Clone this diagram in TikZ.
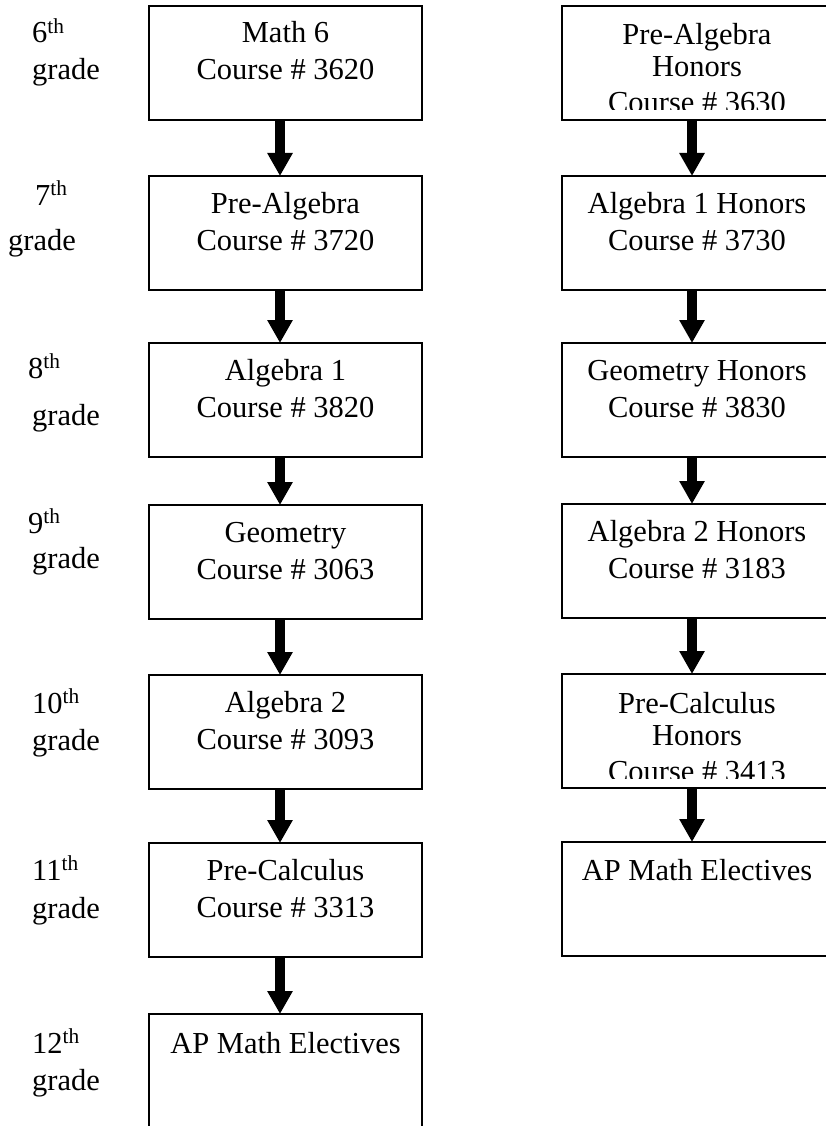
\documentclass[tikz,border=0pt]{standalone}
\usepackage{fontspec}
\setmainfont{Liberation Serif}
\usetikzlibrary{arrows.meta}
\tikzset{
  box/.style={draw, line width=1.6pt, rectangle, minimum width=273pt, minimum height=114pt, anchor=north west, inner sep=0pt, outer sep=0pt},
  txt/.style={anchor=base, inner sep=0pt, font=\fontsize{30.5}{36}\selectfont},
  grd/.style={anchor=base west, inner sep=0pt, font=\fontsize{30.5}{36}\selectfont},
  flow/.style={line width=10pt, line cap=butt, -{Triangle[width=24pt,length=23pt]}}
}
\begin{document}
\begin{tikzpicture}[x=1pt,y=-1pt]
\path[use as bounding box] (0,0) rectangle (826,1126);
\clip (0,0) rectangle (826,1126);
% grade labels
\node[grd] (g6a) at (32,43) {6\textsuperscript{th}};
\node[grd] (g6b) at (32,80) {grade};
\node[grd] (g7a) at (35,205) {7\textsuperscript{th}};
\node[grd] (g7b) at (8,250) {grade};
\node[grd] (g8a) at (28,378) {8\textsuperscript{th}};
\node[grd] (g8b) at (32,425) {grade};
\node[grd] (g9a) at (28,533) {9\textsuperscript{th}};
\node[grd] (g9b) at (32,568) {grade};
\node[grd] (g10a) at (32,713) {10\textsuperscript{th}};
\node[grd] (g10b) at (32,750) {grade};
\node[grd] (g11a) at (32,880) {11\textsuperscript{th}};
\node[grd] (g11b) at (32,918) {grade};
\node[grd] (g12a) at (32,1053) {12\textsuperscript{th}};
\node[grd] (g12b) at (32,1090) {grade};
% left column boxes
\node[box] (L1) at (149,6) {};
\node[box] (L2) at (149,176) {};
\node[box] (L3) at (149,343) {};
\node[box] (L4) at (149,505) {};
\node[box] (L5) at (149,675) {};
\node[box] (L6) at (149,843) {};
\node[box, minimum height=140pt] (L7) at (149,1014) {};
% right column boxes
\node[box] (R1) at (562,6) {};
\node[box] (R2) at (562,176) {};
\node[box] (R3) at (562,343) {};
\node[box] (R4) at (562,504) {};
\node[box] (R5) at (562,674) {};
\node[box] (R6) at (562,842) {};
% left texts
\node[txt] (L1a) at ([yshift=-37pt]L1.north) {Math 6};
\node[txt] (L1b) at ([yshift=-74pt]L1.north) {Course \# 3620};
\node[txt] (L2a) at ([yshift=-37pt]L2.north) {Pre-Algebra};
\node[txt] (L2b) at ([yshift=-74pt]L2.north) {Course \# 3720};
\node[txt] (L3a) at ([yshift=-37pt]L3.north) {Algebra 1};
\node[txt] (L3b) at ([yshift=-74pt]L3.north) {Course \# 3820};
\node[txt] (L4a) at ([yshift=-37pt]L4.north) {Geometry};
\node[txt] (L4b) at ([yshift=-74pt]L4.north) {Course \# 3063};
\node[txt] (L5a) at ([yshift=-37pt]L5.north) {Algebra 2};
\node[txt] (L5b) at ([yshift=-74pt]L5.north) {Course \# 3093};
\node[txt] (L6a) at ([yshift=-37pt]L6.north) {Pre-Calculus};
\node[txt] (L6b) at ([yshift=-74pt]L6.north) {Course \# 3313};
\node[txt] (L7a) at ([yshift=-39pt]L7.north) {AP Math Electives};
% right texts
\node[txt] (R1a) at ([xshift=-1.5pt,yshift=-39pt]R1.north) {Pre-Algebra};
\node[txt] (R1b) at ([xshift=-1.5pt,yshift=-71pt]R1.north) {Honors};
\begin{scope}
\clip (562,6) rectangle (826,110);
\node[txt] (R1c) at ([xshift=-1.5pt,yshift=-107pt]R1.north) {Course \# 3630};
\end{scope}
\node[txt] (R2a) at ([xshift=-1.5pt,yshift=-37pt]R2.north) {Algebra 1 Honors};
\node[txt] (R2b) at ([xshift=-1.5pt,yshift=-74pt]R2.north) {Course \# 3730};
\node[txt] (R3a) at ([xshift=-1.5pt,yshift=-37pt]R3.north) {Geometry Honors};
\node[txt] (R3b) at ([xshift=-1.5pt,yshift=-74pt]R3.north) {Course \# 3830};
\node[txt] (R4a) at ([xshift=-1.5pt,yshift=-37pt]R4.north) {Algebra 2 Honors};
\node[txt] (R4b) at ([xshift=-1.5pt,yshift=-74pt]R4.north) {Course \# 3183};
\node[txt] (R5a) at ([xshift=-1.5pt,yshift=-39pt]R5.north) {Pre-Calculus};
\node[txt] (R5b) at ([xshift=-1.5pt,yshift=-71pt]R5.north) {Honors};
\begin{scope}
\clip (562,674) rectangle (826,778);
\node[txt] (R5c) at ([xshift=-1.5pt,yshift=-107pt]R5.north) {Course \# 3413};
\end{scope}
\node[txt] (R6a) at ([xshift=-1.5pt,yshift=-38pt]R6.north) {AP Math Electives};
% arrows
\foreach \a/\b in {L1/L2,L2/L3,L3/L4,L4/L5,L5/L6,L6/L7}
  \draw[flow] ([xshift=-5.5pt]\a.south) -- ([xshift=-5.5pt]\b.north);
\foreach \a/\b in {R1/R2,R2/R3,R3/R4,R4/R5,R5/R6}
  \draw[flow] ([xshift=-6.5pt]\a.south) -- ([xshift=-6.5pt]\b.north);
\end{tikzpicture}
\end{document}
